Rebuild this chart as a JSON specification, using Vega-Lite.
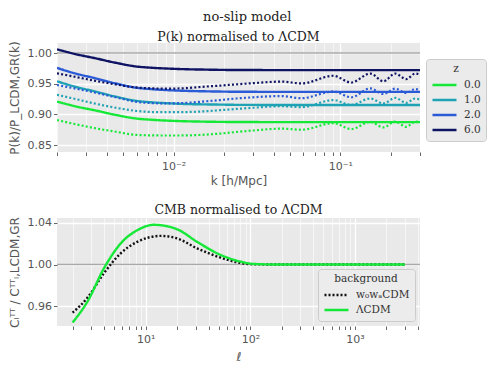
{
  "$schema": "https://vega.github.io/schema/vega-lite/v6.json",
  "padding": {"left": 8, "top": 11, "right": 4, "bottom": 4},
  "title": {"text": "no-slip model", "fontSize": 13, "anchor": "middle", "offset": 7, "font": "DejaVu Serif", "fontWeight": "normal", "color": "#222222"},
  "datasets": {
    "ref": [{"ref": 1}],
    "pk": [
      {"k": 0.002, "z": "6.0", "style": "solid", "r": 1.006},
      {"k": 0.0026, "z": "6.0", "style": "solid", "r": 0.998},
      {"k": 0.00334, "z": "6.0", "style": "solid", "r": 0.9919},
      {"k": 0.0045, "z": "6.0", "style": "solid", "r": 0.9841},
      {"k": 0.0059, "z": "6.0", "style": "solid", "r": 0.9783},
      {"k": 0.0075, "z": "6.0", "style": "solid", "r": 0.9759},
      {"k": 0.0094, "z": "6.0", "style": "solid", "r": 0.9746},
      {"k": 0.012, "z": "6.0", "style": "solid", "r": 0.9736},
      {"k": 0.0149, "z": "6.0", "style": "solid", "r": 0.9731},
      {"k": 0.019, "z": "6.0", "style": "solid", "r": 0.9726},
      {"k": 0.0237, "z": "6.0", "style": "solid", "r": 0.9724},
      {"k": 0.03, "z": "6.0", "style": "solid", "r": 0.9723},
      {"k": 0.05, "z": "6.0", "style": "solid", "r": 0.9722},
      {"k": 0.1, "z": "6.0", "style": "solid", "r": 0.9722},
      {"k": 0.2, "z": "6.0", "style": "solid", "r": 0.9722},
      {"k": 0.3, "z": "6.0", "style": "solid", "r": 0.9722},

      {"k": 0.002, "z": "2.0", "style": "solid", "r": 0.9758},
      {"k": 0.0026, "z": "2.0", "style": "solid", "r": 0.9664},
      {"k": 0.00334, "z": "2.0", "style": "solid", "r": 0.9594},
      {"k": 0.0045, "z": "2.0", "style": "solid", "r": 0.9505},
      {"k": 0.0059, "z": "2.0", "style": "solid", "r": 0.9438},
      {"k": 0.0075, "z": "2.0", "style": "solid", "r": 0.9411},
      {"k": 0.0094, "z": "2.0", "style": "solid", "r": 0.9395},
      {"k": 0.012, "z": "2.0", "style": "solid", "r": 0.9384},
      {"k": 0.0149, "z": "2.0", "style": "solid", "r": 0.9378},
      {"k": 0.019, "z": "2.0", "style": "solid", "r": 0.9373},
      {"k": 0.0237, "z": "2.0", "style": "solid", "r": 0.937},
      {"k": 0.03, "z": "2.0", "style": "solid", "r": 0.9369},
      {"k": 0.05, "z": "2.0", "style": "solid", "r": 0.9368},
      {"k": 0.1, "z": "2.0", "style": "solid", "r": 0.9368},
      {"k": 0.2, "z": "2.0", "style": "solid", "r": 0.9368},
      {"k": 0.3, "z": "2.0", "style": "solid", "r": 0.9368},

      {"k": 0.002, "z": "1.0", "style": "solid", "r": 0.954},
      {"k": 0.0026, "z": "1.0", "style": "solid", "r": 0.9448},
      {"k": 0.00334, "z": "1.0", "style": "solid", "r": 0.9378},
      {"k": 0.0045, "z": "1.0", "style": "solid", "r": 0.929},
      {"k": 0.0059, "z": "1.0", "style": "solid", "r": 0.9224},
      {"k": 0.0075, "z": "1.0", "style": "solid", "r": 0.9197},
      {"k": 0.0094, "z": "1.0", "style": "solid", "r": 0.9182},
      {"k": 0.012, "z": "1.0", "style": "solid", "r": 0.917},
      {"k": 0.0149, "z": "1.0", "style": "solid", "r": 0.9165},
      {"k": 0.019, "z": "1.0", "style": "solid", "r": 0.9161},
      {"k": 0.0237, "z": "1.0", "style": "solid", "r": 0.9157},
      {"k": 0.03, "z": "1.0", "style": "solid", "r": 0.9156},
      {"k": 0.05, "z": "1.0", "style": "solid", "r": 0.9155},
      {"k": 0.1, "z": "1.0", "style": "solid", "r": 0.9155},
      {"k": 0.2, "z": "1.0", "style": "solid", "r": 0.9155},
      {"k": 0.3, "z": "1.0", "style": "solid", "r": 0.9155},

      {"k": 0.002, "z": "0.0", "style": "solid", "r": 0.921},
      {"k": 0.0026, "z": "0.0", "style": "solid", "r": 0.913},
      {"k": 0.00334, "z": "0.0", "style": "solid", "r": 0.907},
      {"k": 0.0045, "z": "0.0", "style": "solid", "r": 0.8993},
      {"k": 0.0059, "z": "0.0", "style": "solid", "r": 0.8936},
      {"k": 0.0075, "z": "0.0", "style": "solid", "r": 0.8913},
      {"k": 0.0094, "z": "0.0", "style": "solid", "r": 0.8899},
      {"k": 0.012, "z": "0.0", "style": "solid", "r": 0.8889},
      {"k": 0.0149, "z": "0.0", "style": "solid", "r": 0.8884},
      {"k": 0.019, "z": "0.0", "style": "solid", "r": 0.888},
      {"k": 0.0237, "z": "0.0", "style": "solid", "r": 0.8878},
      {"k": 0.03, "z": "0.0", "style": "solid", "r": 0.8877},
      {"k": 0.05, "z": "0.0", "style": "solid", "r": 0.8876},
      {"k": 0.1, "z": "0.0", "style": "solid", "r": 0.8876},
      {"k": 0.2, "z": "0.0", "style": "solid", "r": 0.8876},
      {"k": 0.3, "z": "0.0", "style": "solid", "r": 0.8876},

      {"k": 0.002, "z": "6.0", "style": "dotted", "r": 0.967},
      {"k": 0.0026, "z": "6.0", "style": "dotted", "r": 0.961},
      {"k": 0.00334, "z": "6.0", "style": "dotted", "r": 0.955},
      {"k": 0.0045, "z": "6.0", "style": "dotted", "r": 0.949},
      {"k": 0.0059, "z": "6.0", "style": "dotted", "r": 0.944},
      {"k": 0.0075, "z": "6.0", "style": "dotted", "r": 0.9425},
      {"k": 0.0094, "z": "6.0", "style": "dotted", "r": 0.942},
      {"k": 0.012, "z": "6.0", "style": "dotted", "r": 0.943},
      {"k": 0.0149, "z": "6.0", "style": "dotted", "r": 0.945},
      {"k": 0.019, "z": "6.0", "style": "dotted", "r": 0.947},
      {"k": 0.0237, "z": "6.0", "style": "dotted", "r": 0.949},
      {"k": 0.03, "z": "6.0", "style": "dotted", "r": 0.951},
      {"k": 0.0443, "z": "6.0", "style": "dotted", "r": 0.9535},
      {"k": 0.0585, "z": "6.0", "style": "dotted", "r": 0.9505},
      {"k": 0.0908, "z": "6.0", "style": "dotted", "r": 0.963},
      {"k": 0.116, "z": "6.0", "style": "dotted", "r": 0.952},
      {"k": 0.151, "z": "6.0", "style": "dotted", "r": 0.9666},
      {"k": 0.181, "z": "6.0", "style": "dotted", "r": 0.954},
      {"k": 0.213, "z": "6.0", "style": "dotted", "r": 0.9666},
      {"k": 0.248, "z": "6.0", "style": "dotted", "r": 0.9575},
      {"k": 0.281, "z": "6.0", "style": "dotted", "r": 0.9666},
      {"k": 0.3, "z": "6.0", "style": "dotted", "r": 0.965},

      {"k": 0.002, "z": "2.0", "style": "dotted", "r": 0.948},
      {"k": 0.0026, "z": "2.0", "style": "dotted", "r": 0.942},
      {"k": 0.00334, "z": "2.0", "style": "dotted", "r": 0.936},
      {"k": 0.0045, "z": "2.0", "style": "dotted", "r": 0.928},
      {"k": 0.0059, "z": "2.0", "style": "dotted", "r": 0.921},
      {"k": 0.0075, "z": "2.0", "style": "dotted", "r": 0.9185},
      {"k": 0.0094, "z": "2.0", "style": "dotted", "r": 0.918},
      {"k": 0.012, "z": "2.0", "style": "dotted", "r": 0.919},
      {"k": 0.0149, "z": "2.0", "style": "dotted", "r": 0.921},
      {"k": 0.019, "z": "2.0", "style": "dotted", "r": 0.9235},
      {"k": 0.0237, "z": "2.0", "style": "dotted", "r": 0.926},
      {"k": 0.03, "z": "2.0", "style": "dotted", "r": 0.928},
      {"k": 0.0443, "z": "2.0", "style": "dotted", "r": 0.93},
      {"k": 0.0585, "z": "2.0", "style": "dotted", "r": 0.9265},
      {"k": 0.0908, "z": "2.0", "style": "dotted", "r": 0.9375},
      {"k": 0.116, "z": "2.0", "style": "dotted", "r": 0.928},
      {"k": 0.151, "z": "2.0", "style": "dotted", "r": 0.9424},
      {"k": 0.181, "z": "2.0", "style": "dotted", "r": 0.9334},
      {"k": 0.213, "z": "2.0", "style": "dotted", "r": 0.942},
      {"k": 0.248, "z": "2.0", "style": "dotted", "r": 0.935},
      {"k": 0.281, "z": "2.0", "style": "dotted", "r": 0.9414},
      {"k": 0.3, "z": "2.0", "style": "dotted", "r": 0.939},

      {"k": 0.002, "z": "1.0", "style": "dotted", "r": 0.932},
      {"k": 0.0026, "z": "1.0", "style": "dotted", "r": 0.925},
      {"k": 0.00334, "z": "1.0", "style": "dotted", "r": 0.918},
      {"k": 0.0045, "z": "1.0", "style": "dotted", "r": 0.911},
      {"k": 0.0059, "z": "1.0", "style": "dotted", "r": 0.906},
      {"k": 0.0075, "z": "1.0", "style": "dotted", "r": 0.904},
      {"k": 0.0094, "z": "1.0", "style": "dotted", "r": 0.9037},
      {"k": 0.012, "z": "1.0", "style": "dotted", "r": 0.904},
      {"k": 0.0149, "z": "1.0", "style": "dotted", "r": 0.905},
      {"k": 0.019, "z": "1.0", "style": "dotted", "r": 0.907},
      {"k": 0.0237, "z": "1.0", "style": "dotted", "r": 0.909},
      {"k": 0.03, "z": "1.0", "style": "dotted", "r": 0.911},
      {"k": 0.0443, "z": "1.0", "style": "dotted", "r": 0.9135},
      {"k": 0.0585, "z": "1.0", "style": "dotted", "r": 0.912},
      {"k": 0.0908, "z": "1.0", "style": "dotted", "r": 0.9235},
      {"k": 0.116, "z": "1.0", "style": "dotted", "r": 0.9155},
      {"k": 0.151, "z": "1.0", "style": "dotted", "r": 0.926},
      {"k": 0.181, "z": "1.0", "style": "dotted", "r": 0.918},
      {"k": 0.213, "z": "1.0", "style": "dotted", "r": 0.927},
      {"k": 0.248, "z": "1.0", "style": "dotted", "r": 0.919},
      {"k": 0.281, "z": "1.0", "style": "dotted", "r": 0.926},
      {"k": 0.3, "z": "1.0", "style": "dotted", "r": 0.924},

      {"k": 0.002, "z": "0.0", "style": "dotted", "r": 0.891},
      {"k": 0.0026, "z": "0.0", "style": "dotted", "r": 0.884},
      {"k": 0.00334, "z": "0.0", "style": "dotted", "r": 0.878},
      {"k": 0.0045, "z": "0.0", "style": "dotted", "r": 0.872},
      {"k": 0.0059, "z": "0.0", "style": "dotted", "r": 0.867},
      {"k": 0.0075, "z": "0.0", "style": "dotted", "r": 0.866},
      {"k": 0.0094, "z": "0.0", "style": "dotted", "r": 0.8658},
      {"k": 0.012, "z": "0.0", "style": "dotted", "r": 0.866},
      {"k": 0.0149, "z": "0.0", "style": "dotted", "r": 0.867},
      {"k": 0.019, "z": "0.0", "style": "dotted", "r": 0.869},
      {"k": 0.0237, "z": "0.0", "style": "dotted", "r": 0.8715},
      {"k": 0.03, "z": "0.0", "style": "dotted", "r": 0.874},
      {"k": 0.0443, "z": "0.0", "style": "dotted", "r": 0.877},
      {"k": 0.0585, "z": "0.0", "style": "dotted", "r": 0.8752},
      {"k": 0.0908, "z": "0.0", "style": "dotted", "r": 0.886},
      {"k": 0.116, "z": "0.0", "style": "dotted", "r": 0.8763},
      {"k": 0.151, "z": "0.0", "style": "dotted", "r": 0.888},
      {"k": 0.181, "z": "0.0", "style": "dotted", "r": 0.879},
      {"k": 0.213, "z": "0.0", "style": "dotted", "r": 0.8886},
      {"k": 0.248, "z": "0.0", "style": "dotted", "r": 0.88},
      {"k": 0.281, "z": "0.0", "style": "dotted", "r": 0.8886},
      {"k": 0.3, "z": "0.0", "style": "dotted", "r": 0.887}
    ],
    "cmb": [
      {"ell": 2, "bg": "w₀wₐCDM", "r": 0.954},
      {"ell": 2.77, "bg": "w₀wₐCDM", "r": 0.9682},
      {"ell": 4, "bg": "w₀wₐCDM", "r": 0.9919},
      {"ell": 5.77, "bg": "w₀wₐCDM", "r": 1.0108},
      {"ell": 8.3, "bg": "w₀wₐCDM", "r": 1.0217},
      {"ell": 14, "bg": "w₀wₐCDM", "r": 1.0274},
      {"ell": 20, "bg": "w₀wₐCDM", "r": 1.025},
      {"ell": 31, "bg": "w₀wₐCDM", "r": 1.0155},
      {"ell": 52, "bg": "w₀wₐCDM", "r": 1.0066},
      {"ell": 81, "bg": "w₀wₐCDM", "r": 1.0015},
      {"ell": 108, "bg": "w₀wₐCDM", "r": 1.0003},
      {"ell": 200, "bg": "w₀wₐCDM", "r": 1.0},
      {"ell": 3000, "bg": "w₀wₐCDM", "r": 1.0},
      {"ell": 2, "bg": "ΛCDM", "r": 0.9446},
      {"ell": 2.77, "bg": "ΛCDM", "r": 0.9645},
      {"ell": 4, "bg": "ΛCDM", "r": 0.9966},
      {"ell": 5.77, "bg": "ΛCDM", "r": 1.0202},
      {"ell": 8.3, "bg": "ΛCDM", "r": 1.0328},
      {"ell": 12, "bg": "ΛCDM", "r": 1.038},
      {"ell": 20, "bg": "ΛCDM", "r": 1.0337},
      {"ell": 31, "bg": "ΛCDM", "r": 1.0217},
      {"ell": 52, "bg": "ΛCDM", "r": 1.0092},
      {"ell": 81, "bg": "ΛCDM", "r": 1.0028},
      {"ell": 108, "bg": "ΛCDM", "r": 1.0006},
      {"ell": 200, "bg": "ΛCDM", "r": 1.0},
      {"ell": 3000, "bg": "ΛCDM", "r": 1.0}
    ]
  },
  "vconcat": [
    {
      "width": 363,
      "height": 109,
      "title": {"text": "P(k) normalised to ΛCDM", "offset": -3},
      "layer": [
        {
          "data": {"name": "ref"},
          "mark": {"type": "rule", "color": "#aaaaaa", "strokeWidth": 1.5},
          "encoding": {
            "y": {
              "field": "ref", "type": "quantitative",
              "scale": {"domain": [0.839, 1.0163], "nice": false, "zero": false},
              "axis": {"title": "P(k)/P_LCDM,GR(k)", "values": [0.85, 0.9, 0.95, 1.0], "format": ".2f", "labelOverlap": false, "labelFlush": false, "titlePadding": 6, "gridWidth": 1.3}
            }
          }
        },
        {
          "data": {"name": "pk"},
          "mark": {"type": "line", "interpolate": "monotone", "clip": true},
          "encoding": {
            "x": {
              "field": "k", "type": "quantitative",
              "scale": {"type": "log", "domain": [0.002, 0.3], "nice": false},
              "axis": {
                "title": "k [h/Mpc]",
                "values": [0.002, 0.003, 0.004, 0.005, 0.006, 0.007, 0.008, 0.009, 0.01, 0.02, 0.03, 0.04, 0.05, 0.06, 0.07, 0.08, 0.09, 0.1, 0.2, 0.3],
                "labelExpr": "datum.value == 0.01 ? '10⁻²' : (datum.value == 0.1 ? '10⁻¹' : '')",
                "labelOverlap": false,
                "labelFlush": false,
                "labelPadding": 5,
                "gridWidth": {"condition": {"test": "datum.value == 0.01 || datum.value == 0.1", "value": 1.3}, "value": 0.6},
                "titlePadding": 4
              }
            },
            "y": {
              "field": "r", "type": "quantitative",
              "scale": {"domain": [0.839, 1.0163], "nice": false, "zero": false},
              "axis": {"title": "P(k)/P_LCDM,GR(k)", "values": [0.85, 0.9, 0.95, 1.0], "format": ".2f", "labelOverlap": false, "labelFlush": false, "titlePadding": 6, "gridWidth": 1.3}
            },
            "color": {
              "field": "z", "type": "nominal",
              "scale": {"domain": ["0.0", "1.0", "2.0", "6.0"], "range": ["#16e838", "#1ea2b4", "#2a5ad5", "#0e1463"]},
              "legend": {
                "title": "z", "orient": "none", "legendX": 369, "legendY": 16,
                "symbolType": "M-1.5,0H1.5", "symbolSize": 256, "symbolStrokeWidth": 2.5, "symbolFillColor": "transparent", "symbolOffset": 4,
                "fillColor": "#ebebeb", "strokeColor": "#cccccc", "cornerRadius": 3, "padding": 5,
                "titleAnchor": "middle", "titleFont": "DejaVu Serif", "titleFontWeight": "normal", "titleFontSize": 10.5, "titleColor": "#333333", "titlePadding": 1,
                "labelFont": "DejaVu Serif", "labelFontWeight": "normal", "labelFontSize": 10.5, "labelColor": "#333333", "labelOffset": 10, "rowPadding": 0
              }
            },
            "strokeDash": {
              "field": "style", "type": "nominal",
              "scale": {"domain": ["solid", "dotted"], "range": [[1, 0], [2, 2.2]]},
              "legend": null
            },
            "strokeWidth": {
              "field": "style", "type": "nominal",
              "scale": {"domain": ["solid", "dotted"], "range": [2.4, 2.2]},
              "legend": null
            }
          }
        }
      ]
    },
    {
      "width": 363,
      "height": 108,
      "title": {"text": "CMB normalised to ΛCDM", "offset": 0},
      "layer": [
        {
          "data": {"name": "ref"},
          "mark": {"type": "rule", "color": "#aaaaaa", "strokeWidth": 1.5},
          "encoding": {
            "y": {
              "field": "ref", "type": "quantitative",
              "scale": {"domain": [0.9413, 1.0445], "nice": false, "zero": false},
              "axis": {"title": "Cₗᵀᵀ / Cᵀᵀₗ,LCDM,GR", "values": [0.96, 1.0, 1.04], "format": ".2f", "labelOverlap": false, "labelFlush": false, "titlePadding": 6, "gridWidth": 1.3}
            }
          }
        },
        {
          "data": {"name": "cmb"},
          "mark": {"type": "line", "interpolate": "monotone", "clip": true},
          "encoding": {
            "x": {
              "field": "ell", "type": "quantitative",
              "scale": {"type": "log", "domain": [1.42, 4180], "nice": false},
              "axis": {
                "title": "ℓ", "titleFontStyle": "italic",
                "values": [2, 3, 4, 5, 6, 7, 8, 9, 10, 20, 30, 40, 50, 60, 70, 80, 90, 100, 200, 300, 400, 500, 600, 700, 800, 900, 1000, 2000, 3000, 4000],
                "labelExpr": "datum.value == 10 ? '10¹' : (datum.value == 100 ? '10²' : (datum.value == 1000 ? '10³' : ''))",
                "labelOverlap": false,
                "labelFlush": false,
                "labelPadding": 4,
                "gridWidth": {"condition": {"test": "datum.value == 10 || datum.value == 100 || datum.value == 1000", "value": 1.3}, "value": 0.6},
                "titlePadding": 7
              }
            },
            "y": {
              "field": "r", "type": "quantitative",
              "scale": {"domain": [0.9413, 1.0445], "nice": false, "zero": false},
              "axis": {"title": "Cₗᵀᵀ / Cᵀᵀₗ,LCDM,GR", "values": [0.96, 1.0, 1.04], "format": ".2f", "labelOverlap": false, "labelFlush": false, "titlePadding": 6, "gridWidth": 1.3}
            },
            "color": {
              "field": "bg", "type": "nominal",
              "scale": {"domain": ["w₀wₐCDM", "ΛCDM"], "range": ["#111111", "#16e838"]},
              "legend": {
                "title": "background", "orient": "bottom-right", "offset": 5,
                "symbolType": "M-1.5,0H1.5", "symbolSize": 256, "symbolStrokeWidth": 2.5, "symbolFillColor": "transparent", "symbolOffset": 4,
                "fillColor": "#ececec", "strokeColor": "#cccccc", "cornerRadius": 3, "padding": 5,
                "titleAnchor": "middle", "titleFont": "DejaVu Serif", "titleFontWeight": "normal", "titleFontSize": 10.5, "titleColor": "#333333", "titlePadding": 1,
                "labelFont": "DejaVu Serif", "labelFontWeight": "normal", "labelFontSize": 10.5, "labelColor": "#333333", "labelOffset": 10, "rowPadding": 0
              }
            },
            "strokeDash": {
              "field": "bg", "type": "nominal",
              "scale": {"domain": ["w₀wₐCDM", "ΛCDM"], "range": [[2, 2], [1, 0]]}
            },
            "strokeWidth": {"value": 2.4}
          }
        }
      ]
    }
  ],
  "spacing": 17,
  "resolve": {
    "scale": {"color": "independent", "strokeDash": "independent", "x": "independent", "y": "independent"},
    "legend": {"color": "independent", "strokeDash": "independent"}
  },
  "config": {
    "view": {"fill": "#e9e9e9", "stroke": null},
    "axis": {
      "domain": false, "gridColor": "#ffffff", "tickColor": "#666666", "tickSize": 3.5,
      "labelColor": "#555555", "titleColor": "#555555", "labelFont": "DejaVu Sans", "titleFont": "DejaVu Sans",
      "labelFontSize": 11, "titleFontSize": 12, "titleFontWeight": "normal", "labelPadding": 2, "labelOverlap": false
    },
    "title": {"font": "DejaVu Serif", "fontSize": 12.5, "fontWeight": "normal", "color": "#222222"}
  }
}
